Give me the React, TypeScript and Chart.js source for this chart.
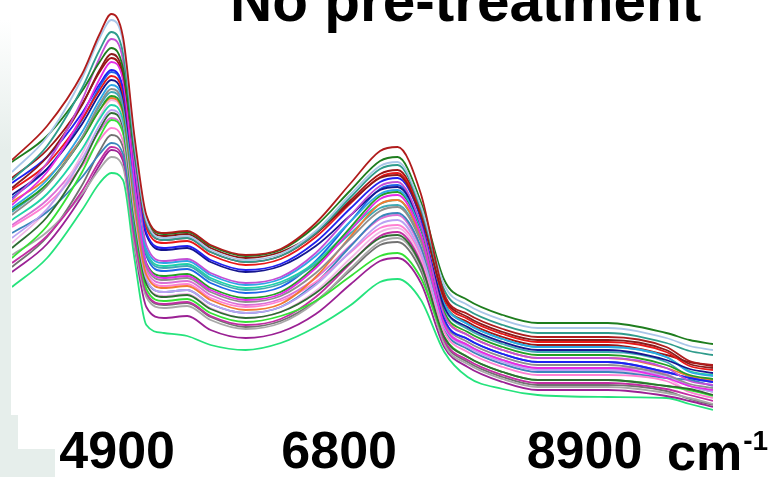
import React, { useEffect, useRef } from "react";
import { Chart, registerables } from "chart.js";

Chart.register(...registerables);

// Wavenumber sample positions (cm-1)
const wavenumbers = [4000, 4300, 4600, 4750, 4850, 4950, 5050, 5150, 5300, 5500, 5700, 6000, 6300, 6600, 6900, 7150, 7300, 7500, 7700, 7900, 8200, 8500, 9100, 9600, 9800, 10000];
const tickValues = [4900, 6800, 8900];
const chartTitle = "No pre-treatment";
const unitLabel = "cm";
const unitExponent = "-1";

// Absorbance spectra (one array per sample)
const spec01 = [1.30, 1.47, 1.73, 1.93, 2.03, 1.915, 1.41, 1.025, 0.935, 0.945, 0.875, 0.825, 0.855, 0.985, 1.185, 1.345, 1.365, 1.13, 0.63, 0.53, 0.455, 0.415, 0.415, 0.365, 0.295, 0.275];
const spec02 = [1.24, 1.415, 1.71, 1.91, 2.00, 1.89, 1.385, 1.00, 0.91, 0.92, 0.85, 0.80, 0.83, 0.945, 1.13, 1.27, 1.29, 1.07, 0.675, 0.575, 0.50, 0.46, 0.46, 0.41, 0.37, 0.35];
const spec03 = [1.20, 1.37, 1.66, 1.85, 1.94, 1.835, 1.35, 0.985, 0.90, 0.91, 0.84, 0.79, 0.82, 0.935, 1.115, 1.255, 1.275, 1.055, 0.65, 0.55, 0.475, 0.435, 0.435, 0.385, 0.345, 0.325];
const spec04 = [1.29, 1.42, 1.645, 1.79, 1.86, 1.76, 1.325, 1.015, 0.93, 0.94, 0.87, 0.82, 0.85, 0.97, 1.15, 1.295, 1.315, 1.09, 0.70, 0.60, 0.525, 0.485, 0.485, 0.435, 0.40, 0.38];
const spec05 = [1.10, 1.285, 1.60, 1.81, 1.905, 1.80, 1.28, 0.875, 0.795, 0.805, 0.735, 0.685, 0.715, 0.835, 1.025, 1.17, 1.19, 0.975, 0.525, 0.425, 0.35, 0.31, 0.31, 0.26, 0.195, 0.175];
const spec06 = [1.16, 1.315, 1.575, 1.75, 1.83, 1.735, 1.305, 1.00, 0.92, 0.93, 0.86, 0.81, 0.84, 0.935, 1.09, 1.21, 1.225, 1.02, 0.615, 0.515, 0.44, 0.40, 0.40, 0.35, 0.28, 0.26];
const spec07 = [1.075, 1.24, 1.52, 1.705, 1.79, 1.70, 1.18, 0.78, 0.71, 0.72, 0.65, 0.60, 0.63, 0.76, 0.95, 1.105, 1.125, 0.925, 0.475, 0.375, 0.30, 0.26, 0.26, 0.21, 0.17, 0.15];
const spec08 = [1.185, 1.315, 1.535, 1.68, 1.75, 1.66, 1.235, 0.935, 0.86, 0.87, 0.80, 0.75, 0.78, 0.89, 1.06, 1.19, 1.21, 1.005, 0.505, 0.405, 0.33, 0.29, 0.29, 0.24, 0.21, 0.19];
const spec09 = [1.15, 1.28, 1.505, 1.65, 1.72, 1.635, 1.235, 0.96, 0.885, 0.895, 0.825, 0.775, 0.805, 0.915, 1.085, 1.215, 1.235, 1.03, 0.605, 0.505, 0.43, 0.39, 0.39, 0.34, 0.27, 0.25];
const spec10 = [1.125, 1.255, 1.48, 1.63, 1.70, 1.615, 1.205, 0.925, 0.85, 0.86, 0.79, 0.74, 0.77, 0.87, 1.025, 1.15, 1.165, 0.975, 0.565, 0.465, 0.39, 0.35, 0.35, 0.30, 0.255, 0.235];
const spec11 = [1.06, 1.20, 1.44, 1.60, 1.675, 1.595, 1.16, 0.855, 0.785, 0.795, 0.725, 0.675, 0.705, 0.82, 0.995, 1.13, 1.15, 0.96, 0.58, 0.48, 0.405, 0.365, 0.365, 0.315, 0.24, 0.22];
const spec12 = [1.025, 1.17, 1.415, 1.58, 1.655, 1.575, 1.105, 0.765, 0.70, 0.71, 0.64, 0.59, 0.62, 0.735, 0.91, 1.045, 1.065, 0.89, 0.49, 0.39, 0.315, 0.275, 0.275, 0.225, 0.18, 0.16];
const spec13 = [1.05, 1.18, 1.405, 1.55, 1.62, 1.545, 1.10, 0.785, 0.72, 0.73, 0.66, 0.61, 0.64, 0.77, 0.965, 1.12, 1.14, 0.95, 0.54, 0.44, 0.365, 0.325, 0.325, 0.275, 0.225, 0.205];
const spec14 = [1.09, 1.21, 1.41, 1.55, 1.61, 1.535, 1.065, 0.725, 0.66, 0.67, 0.60, 0.55, 0.58, 0.715, 0.92, 1.08, 1.10, 0.915, 0.525, 0.425, 0.35, 0.31, 0.31, 0.26, 0.22, 0.20];
const spec15 = [1.04, 1.18, 1.41, 1.57, 1.64, 1.56, 1.13, 0.83, 0.76, 0.77, 0.70, 0.65, 0.68, 0.78, 0.935, 1.06, 1.075, 0.90, 0.555, 0.455, 0.38, 0.34, 0.34, 0.29, 0.215, 0.195];
const spec16 = [1.00, 1.13, 1.355, 1.505, 1.575, 1.50, 1.105, 0.84, 0.77, 0.78, 0.71, 0.66, 0.69, 0.79, 0.955, 1.08, 1.10, 0.915, 0.58, 0.48, 0.405, 0.365, 0.365, 0.315, 0.245, 0.225];
const spec17 = [0.91, 1.055, 1.305, 1.475, 1.55, 1.48, 1.025, 0.705, 0.64, 0.65, 0.58, 0.535, 0.565, 0.675, 0.845, 0.98, 1.00, 0.835, 0.465, 0.365, 0.29, 0.25, 0.25, 0.22, 0.17, 0.14];
const spec18 = [0.86, 1.015, 1.28, 1.455, 1.535, 1.465, 1.005, 0.68, 0.615, 0.625, 0.555, 0.51, 0.54, 0.635, 0.79, 0.91, 0.925, 0.775, 0.415, 0.315, 0.24, 0.20, 0.20, 0.17, 0.155, 0.125];
const spec19 = [0.81, 0.97, 1.24, 1.415, 1.50, 1.435, 0.98, 0.655, 0.595, 0.605, 0.535, 0.49, 0.52, 0.595, 0.72, 0.82, 0.835, 0.71, 0.415, 0.315, 0.24, 0.20, 0.20, 0.17, 0.15, 0.12];
const spec20 = [0.965, 1.08, 1.27, 1.40, 1.46, 1.395, 0.995, 0.735, 0.67, 0.68, 0.61, 0.565, 0.595, 0.69, 0.84, 0.96, 0.975, 0.82, 0.44, 0.34, 0.265, 0.225, 0.225, 0.195, 0.14, 0.11];
const spec21 = [0.935, 1.04, 1.215, 1.33, 1.385, 1.33, 0.945, 0.70, 0.64, 0.65, 0.58, 0.535, 0.565, 0.685, 0.87, 1.015, 1.035, 0.865, 0.455, 0.355, 0.28, 0.24, 0.24, 0.21, 0.20, 0.17];
const spec22 = [0.785, 0.92, 1.145, 1.295, 1.365, 1.31, 0.905, 0.635, 0.58, 0.59, 0.52, 0.475, 0.505, 0.615, 0.785, 0.92, 0.94, 0.785, 0.40, 0.30, 0.225, 0.185, 0.185, 0.155, 0.125, 0.095];
const spec23 = [0.825, 0.94, 1.13, 1.255, 1.315, 1.265, 0.87, 0.615, 0.56, 0.57, 0.50, 0.455, 0.485, 0.59, 0.76, 0.89, 0.91, 0.765, 0.38, 0.28, 0.205, 0.165, 0.165, 0.135, 0.11, 0.08];
const spec24 = [0.74, 0.88, 1.12, 1.275, 1.35, 1.295, 0.865, 0.565, 0.51, 0.52, 0.45, 0.41, 0.44, 0.53, 0.68, 0.795, 0.81, 0.685, 0.365, 0.265, 0.19, 0.15, 0.15, 0.12, 0.095, 0.065];
const spec25 = [0.885, 1.05, 1.33, 1.515, 1.60, 1.525, 1.04, 0.685, 0.62, 0.63, 0.56, 0.51, 0.54, 0.645, 0.81, 0.94, 0.96, 0.80, 0.455, 0.355, 0.28, 0.24, 0.24, 0.21, 0.14, 0.11];
const spec26 = [0.665, 0.81, 1.05, 1.185, 1.235, 1.20, 0.80, 0.475, 0.435, 0.42, 0.375, 0.35, 0.385, 0.465, 0.575, 0.69, 0.705, 0.60, 0.34, 0.215, 0.155, 0.125, 0.115, 0.11, 0.08, 0.05];
const spec27 = [0.765, 0.915, 1.175, 1.345, 1.425, 1.365, 0.93, 0.63, 0.575, 0.585, 0.515, 0.465, 0.495, 0.595, 0.75, 0.875, 0.89, 0.745, 0.39, 0.29, 0.215, 0.175, 0.175, 0.145, 0.105, 0.075];
const spec28 = [1.11, 1.255, 1.50, 1.665, 1.74, 1.65, 1.175, 0.82, 0.745, 0.755, 0.685, 0.635, 0.665, 0.795, 0.995, 1.155, 1.175, 0.975, 0.505, 0.405, 0.33, 0.29, 0.29, 0.24, 0.21, 0.19];
const spec29 = [1.21, 1.35, 1.58, 1.74, 1.81, 1.715, 1.285, 0.98, 0.90, 0.91, 0.84, 0.79, 0.82, 0.93, 1.10, 1.23, 1.25, 1.04, 0.59, 0.49, 0.415, 0.375, 0.375, 0.325, 0.29, 0.27];
const spec30 = [0.975, 1.10, 1.305, 1.445, 1.51, 1.44, 1.025, 0.75, 0.685, 0.695, 0.625, 0.575, 0.605, 0.71, 0.875, 1.005, 1.025, 0.855, 0.475, 0.375, 0.30, 0.26, 0.26, 0.23, 0.17, 0.14];

const spectra = [spec01, spec02, spec03, spec04, spec05, spec06, spec07, spec08, spec09, spec10, spec11, spec12, spec13, spec14, spec15, spec16, spec17, spec18, spec19, spec20, spec21, spec22, spec23, spec24, spec25, spec26, spec27, spec28, spec29, spec30];

const lineColors = [
  "#b01c1c", "#a9c6e8", "#2f9c8c", "#1e7d1e", "#c24fd6", "#8c1a1a", "#e52ce5", "#2020f0",
  "#e81818", "#16168e", "#2ea6e6", "#8e8e8e", "#24a024", "#f27a32", "#3fa9b5", "#1fd3a8",
  "#b9a2f2", "#2f6d33", "#35e035", "#ff80d2", "#3a86bb", "#c22ea2", "#a8a8a8", "#9b2194",
  "#f3b6e6", "#25e37c", "#727272", "#1e64e6", "#a01414", "#da70d6",
];

const FONT = '"Liberation Sans", Arial, Helvetica, sans-serif';

const decorPlugin = {
  id: "decor",
  beforeDraw(chart: any) {
    const { ctx, width, height } = chart;
    ctx.save();
    ctx.fillStyle = "#ffffff";
    ctx.fillRect(0, 0, width, height);
    const g = ctx.createLinearGradient(0, 20, 0, 150);
    g.addColorStop(0, "rgba(230,238,235,0)");
    g.addColorStop(1, "rgba(230,238,235,1)");
    ctx.fillStyle = g;
    ctx.fillRect(0, 20, 11, 130);
    ctx.fillStyle = "#e6eeeb";
    ctx.fillRect(0, 150, 11, 265);
    ctx.fillRect(0, 415, 18, 34);
    ctx.fillRect(0, 449, 55, 28);
    ctx.restore();
  },
  afterDraw(chart: any) {
    const { ctx } = chart;
    ctx.save();
    ctx.fillStyle = "#000000";
    ctx.textBaseline = "alphabetic";
    ctx.textAlign = "left";
    ctx.font = `bold 58.5px ${FONT}`;
    ctx.fillText(chartTitle, 230, 21);
    ctx.font = `bold 52px ${FONT}`;
    ctx.fillText(unitLabel, 667, 470);
    const w = ctx.measureText(unitLabel).width;
    ctx.font = `bold 28px ${FONT}`;
    ctx.fillText(unitExponent, 668 + w, 450);
    ctx.restore();
  },
};

export default function App() {
  const canvasRef = useRef<HTMLCanvasElement | null>(null);

  useEffect(() => {
    const canvas = canvasRef.current;
    if (!canvas) return;
    const chart = new Chart(canvas, {
      type: "line",
      data: {
        datasets: spectra.map((s, i) => ({
          label: `Sample ${i + 1}`,
          data: wavenumbers.map((w, j) => ({ x: w, y: s[j] })),
          borderColor: lineColors[i],
          backgroundColor: lineColors[i],
          borderWidth: 1.8,
          pointRadius: 0,
          fill: false,
          cubicInterpolationMode: "monotone" as const,
        })),
      },
      options: {
        animation: false,
        responsive: false,
        devicePixelRatio: 1,
        events: [],
        layout: { padding: { left: 12, right: 65, top: 0, bottom: 0 } },
        plugins: {
          legend: { display: false },
          tooltip: { enabled: false },
          title: { display: false },
        },
        scales: {
          x: {
            type: "linear",
            min: 4000,
            max: 10000,
            grid: { display: false, drawTicks: false },
            border: { display: false },
            afterBuildTicks: (scale: any) => {
              scale.ticks = tickValues.map((v) => ({ value: v }));
            },
            afterFit: (scale: any) => {
              scale.height = 57;
            },
            ticks: {
              padding: 8,
              color: "#000000",
              maxRotation: 0,
              autoSkip: false,
              font: { family: FONT, size: 52, weight: "bold", lineHeight: 1 },
              callback: (v: any) => String(v),
            },
          },
          y: {
            display: false,
            min: 0,
            max: 2.1,
          },
        },
      },
      plugins: [decorPlugin],
    });
    return () => chart.destroy();
  }, []);

  return (
    <div style={{ position: "absolute", left: 0, top: 0, width: 778, height: 477 }}>
      <canvas ref={canvasRef} width={778} height={477} style={{ display: "block" }} />
    </div>
  );
}
